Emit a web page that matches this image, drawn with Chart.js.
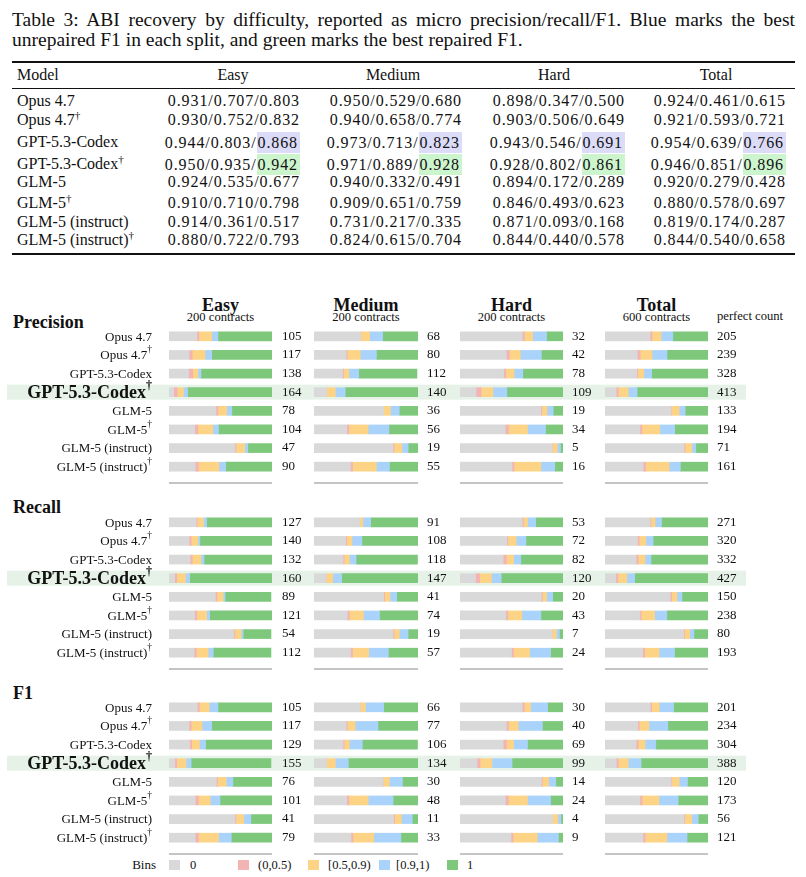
<!DOCTYPE html>
<html>
<head>
<meta charset="utf-8">
<script src="https://cdn.jsdelivr.net/npm/chart.js@4.4.1/dist/chart.umd.min.js"></script>
<style>
  body { margin: 0; background: #fff; }
  #page { position: relative; width: 806px; height: 877px; overflow: hidden;
          font-family: 'Liberation Serif', 'Times New Roman', serif; color: #111; }
  .abs { position: absolute; white-space: nowrap; }
  .cap { left: 12px; width: 783px; font-size: 19.5px; line-height: 20px; text-align: justify; text-align-last: justify; white-space: normal; }
  .cap.last { text-align-last: left; }
  .rule { position: absolute; left: 12px; width: 783px; background: #111; }
  .cell { position: absolute; font-size: 16px; line-height: 20px; height: 20px; white-space: nowrap; }
  .val { letter-spacing: 0.9px; text-align: right; }
  .hb { display: inline-block; background: #dcdcf8; padding: 0 2px 0 1px; height: 21px; line-height: 21px; }
  .hg { display: inline-block; background: #cdf5cd; padding: 0 2px 0 1px; height: 21px; line-height: 21px; }
  .colhead { font-weight: bold; font-size: 18px; line-height: 18px; text-align: center; width: 120px; }
  .colsub { font-size: 12.6px; line-height: 13px; text-align: center; width: 120px; }
  .blockhead { font-weight: bold; font-size: 18px; line-height: 20px; left: 13px; }
  .sw { position: absolute; width: 11px; height: 10px; }
  .lg { font-size: 12.5px; line-height: 14px; }
  canvas { position: absolute; }
</style>
</head>
<body>
<div id="page"></div>
<script>
// ---- data ----
const MODELS = ['Opus 4.7', 'Opus 4.7†', 'GPT-5.3-Codex', 'GPT-5.3-Codex†', 'GLM-5', 'GLM-5†', 'GLM-5 (instruct)', 'GLM-5 (instruct)†'];
const SPLITS = ['Easy', 'Medium', 'Hard', 'Total'];
const SPLIT_SIZES = [200, 200, 200, 600];
const METRICS = ['Precision', 'Recall', 'F1'];
const BINS = ['0', '(0,0.5)', '[0.5,0.9)', '[0.9,1)', '1'];
const BIN_COLORS = ['#d9d9d9', '#f4b4b4', '#fdd486', '#a9d3fa', '#7dc87b'];

// table values, precision/recall/F1 per split
const tableEasy   = ['0.931/0.707/0.803', '0.930/0.752/0.832', '0.944/0.803/0.868', '0.950/0.935/0.942', '0.924/0.535/0.677', '0.910/0.710/0.798', '0.914/0.361/0.517', '0.880/0.722/0.793'];
const tableMedium = ['0.950/0.529/0.680', '0.940/0.658/0.774', '0.973/0.713/0.823', '0.971/0.889/0.928', '0.940/0.332/0.491', '0.909/0.651/0.759', '0.731/0.217/0.335', '0.824/0.615/0.704'];
const tableHard   = ['0.898/0.347/0.500', '0.903/0.506/0.649', '0.943/0.546/0.691', '0.928/0.802/0.861', '0.894/0.172/0.289', '0.846/0.493/0.623', '0.871/0.093/0.168', '0.844/0.440/0.578'];
const tableTotal  = ['0.924/0.461/0.615', '0.921/0.593/0.721', '0.954/0.639/0.766', '0.946/0.851/0.896', '0.920/0.279/0.428', '0.880/0.578/0.697', '0.819/0.174/0.287', '0.844/0.540/0.658'];

// contracts per bin, one row per model: [0, (0,0.5), [0.5,0.9), [0.9,1), 1]
const precisionEasy = [[54,4,25,12,105],[39,6,25,13,117],[38,8,10,6,138],[9,7,12,8,164],[91,4,17,10,78],[50,6,29,11,104],[128,2,17,6,47],[51,6,40,13,90]];
const precisionMedium = [[90,0,17,25,68],[62,2,25,31,80],[55,2,10,19,112],[24,0,17,19,140],[134,0,13,17,36],[63,4,37,40,56],[152,2,15,12,19],[70,4,46,25,55]];
const precisionHard = [[121,4,16,27,32],[90,6,21,41,42],[85,4,16,17,78],[31,10,23,27,109],[157,2,10,12,19],[88,6,37,35,34],[179,0,10,6,5],[101,4,52,27,16]];
const precisionTotal = [[262,12,52,69,205],[188,17,69,87,239],[185,6,35,46,328],[65,12,58,52,413],[384,2,46,35,133],[203,12,104,87,194],[460,6,40,23,71],[222,14,138,65,161]];

const recallEasy = [[53,2,12,6,127],[39,4,13,4,140],[41,4,17,6,132],[11,4,17,8,160],[90,3,12,4,89],[50,4,19,6,121],[126,2,12,4,54],[49,4,23,10,112]];
const recallMedium = [[88,0,6,15,91],[61,2,10,19,108],[56,2,10,13,118],[23,0,13,17,147],[134,2,10,13,41],[64,4,27,31,74],[152,2,10,17,19],[70,4,31,38,57]];
const recallHard = [[121,2,8,16,53],[91,2,16,19,72],[84,6,14,14,82],[30,8,23,19,120],[158,2,8,12,20],[89,4,27,37,43],[179,0,8,6,7],[100,4,31,41,24]];
const recallTotal = [[263,5,24,37,271],[189,10,39,42,320],[181,12,40,35,332],[63,12,52,46,427],[380,9,30,29,150],[203,8,78,71,238],[458,5,30,25,80],[219,12,84,90,193]];

const f1Easy = [[55,4,19,17,105],[39,4,21,19,117],[40,4,15,12,129],[11,4,18,10,155],[92,2,17,13,76],[51,6,23,19,101],[128,2,15,14,41],[51,6,39,25,79]];
const f1Medium = [[89,0,10,35,66],[62,2,15,44,77],[56,2,10,25,106],[24,0,17,25,134],[133,0,12,25,30],[63,4,37,48,48],[153,2,13,21,11],[71,4,40,52,33]];
const f1Hard = [[121,4,12,33,30],[90,4,19,47,40],[84,6,14,27,69],[33,6,23,39,99],[158,2,12,14,14],[88,6,37,45,24],[180,0,10,6,4],[99,4,47,41,9]];
const f1Total = [[264,8,44,83,201],[191,8,57,110,234],[181,12,40,63,304],[66,11,58,75,388],[385,4,43,48,120],[203,13,98,112,173],[460,5,40,38,56],[221,13,127,117,121]];

const BLOCKS = [
  [precisionEasy, precisionMedium, precisionHard, precisionTotal],
  [recallEasy, recallMedium, recallHard, recallTotal],
  [f1Easy, f1Medium, f1Hard, f1Total]
];

// ---- layout ----
const SERIF = "'Liberation Serif', 'Times New Roman', serif";
const page = document.getElementById('page');
const BLOCK_TOP = [327, 513, 698];
const COLS = [
  { left: 0,   width: 314, pad: 169, rightW: 42, tickPad: 10 },
  { left: 314, width: 146, pad: 0,   rightW: 42, tickPad: 9 },
  { left: 460, width: 145, pad: 0,   rightW: 42, tickPad: 9 },
  { left: 605, width: 141, pad: 0,   rightW: 38, tickPad: 9 }
];
const BEST_ROW = 3;

function add(cls, left, top, html, extra) {
  const d = document.createElement('div');
  d.className = 'abs ' + cls;
  d.style.left = left + 'px'; d.style.top = top + 'px';
  d.innerHTML = html;
  if (extra) Object.assign(d.style, extra);
  page.appendChild(d);
  return d;
}
const sup = s => s.replace('†', '<sup style="font-size:0.7em;line-height:0">†</sup>');

// caption
add('cap', 12, 10, 'Table 3: ABI recovery by difficulty, reported as micro precision/recall/F1. Blue marks the best');
add('cap last', 12, 30, 'unrepaired F1 in each split, and green marks the best repaired F1.');

// table
[[61, 2], [88, 1], [253, 2]].forEach(([y, h]) => {
  const r = document.createElement('div'); r.className = 'rule';
  r.style.top = y + 'px'; r.style.height = h + 'px'; page.appendChild(r);
});
const colCenters = [233, 393, 554, 716];
const colRight = [300, 462, 625, 786];
add('cell', 17, 65, 'Model');
SPLITS.forEach((s, j) => add('cell', colCenters[j] - 60, 65, s, { width: '120px', textAlign: 'center' }));
const ROW_Y = [101, 120, 142, 164, 182, 203, 222, 240];
const tableCols = [tableEasy, tableMedium, tableHard, tableTotal];
MODELS.forEach((m, i) => {
  const top = ROW_Y[i] - 10;
  add('cell', 17, top, sup(m));
  tableCols.forEach((col, j) => {
    let txt = col[i];
    if (i === 2 || i === 3) {
      const k = txt.lastIndexOf('/') + 1;
      txt = txt.slice(0, k) + '<span class="' + (i === 2 ? 'hb' : 'hg') + '"> ' + txt.slice(k) + '</span>';
    }
    add('cell val', 0, top, txt, { left: 'auto', right: (806 - colRight[j]) + 'px' });
  });
});

// chart headings
const barCenters = [220.5, 366, 511.5, 656.5];
SPLITS.forEach((s, j) => {
  add('colhead', barCenters[j] - 60, 296, s);
  add('colsub', barCenters[j] - 60, 311, SPLIT_SIZES[j] + ' contracts');
});
add('lg', 717, 309, 'perfect count', { fontSize: '12.6px' });
const headY = [312, 497, 683];
METRICS.forEach((m, b) => add('blockhead', 13, headY[b], m));

// legend
add('lg', 0, 858, 'Bins', { width: '156px', textAlign: 'right', fontSize: '13px' });
const swX = [169, 238, 308, 379, 447];
const lgX = [190, 258, 328, 396, 467];
BINS.forEach((b, k) => {
  const s = document.createElement('div'); s.className = 'sw';
  s.style.left = swX[k] + 'px'; s.style.top = '860px'; s.style.background = BIN_COLORS[k];
  page.appendChild(s);
  add('lg', lgX[k], 858, b);
});

// ---- plugins ----
const bandPlugin = {
  id: 'band',
  beforeDraw(chart, args, opts) {
    const y = chart.scales.y.getPixelForValue(BEST_ROW);
    const c = chart.ctx;
    c.save(); c.fillStyle = '#e6f2e8';
    c.fillRect(opts.x0, y - 7.5, chart.width - opts.x0, 15);
    c.restore();
  }
};
const sepPlugin = {
  id: 'sep',
  afterDraw(chart) {
    const a = chart.chartArea, c = chart.ctx;
    c.save(); c.strokeStyle = '#c4c4c4'; c.lineWidth = 2;
    c.beginPath(); c.moveTo(a.left, a.bottom + 7); c.lineTo(a.right, a.bottom + 7); c.stroke();
    c.restore();
  }
};
const namePlugin = {
  id: 'names',
  afterDraw(chart, args, opts) {
    if (!opts.show) return;
    const c = chart.ctx;
    c.save(); c.fillStyle = '#111'; c.textBaseline = 'middle'; c.textAlign = 'left';
    MODELS.forEach((name, i) => {
      const y = chart.scales.y.getPixelForValue(i);
      const big = i === BEST_ROW;
      const dag = name.endsWith('†');
      const base = name.replace('†', '');
      const f = big ? 'bold 18px ' + SERIF : '13px ' + SERIF;
      const fd = (big ? 'bold 12px ' : '9.5px ') + SERIF;
      c.font = f; const w1 = c.measureText(base).width;
      c.font = fd; const w2 = dag ? c.measureText('†').width : 0;
      const x = 152 - w1 - w2;
      c.font = f; c.fillText(base, x, y + 1);
      if (dag) { c.font = fd; c.fillText('†', x + w1, y - (big ? 6 : 5)); }
    });
    c.restore();
  }
};

// ---- charts ----
BLOCKS.forEach((cols, b) => {
  cols.forEach((rows, j) => {
    const g = COLS[j];
    const cv = document.createElement('canvas');
    cv.width = g.width; cv.height = 159;
    cv.style.left = g.left + 'px'; cv.style.top = BLOCK_TOP[b] + 'px';
    page.appendChild(cv);
    new Chart(cv, {
      type: 'bar',
      data: {
        labels: MODELS,
        datasets: BINS.map((bin, k) => ({
          label: bin,
          data: rows.map(r => r[k]),
          backgroundColor: BIN_COLORS[k],
          borderWidth: 0,
          barThickness: 9
        }))
      },
      options: {
        indexAxis: 'y',
        responsive: false,
        animation: false,
        layout: { padding: { left: g.pad, right: 0, top: 0, bottom: 10 } },
        plugins: {
          legend: { display: false },
          tooltip: { enabled: false },
          band: { x0: j === 0 ? 7 : 0 },
          names: { show: j === 0 }
        },
        scales: {
          x: { stacked: true, display: false, min: 0, max: SPLIT_SIZES[j] },
          y: { stacked: true, display: false },
          y2: {
            type: 'category',
            position: 'right',
            offset: true,
            labels: rows.map(r => String(r[4])),
            grid: { display: false, drawTicks: false },
            border: { display: false },
            ticks: { padding: g.tickPad, color: '#111', font: { family: SERIF, size: 13 } },
            afterFit(s) { s.width = g.rightW; s.paddingTop = 0; s.paddingBottom = 0; }
          }
        }
      },
      plugins: [bandPlugin, sepPlugin, namePlugin]
    });
  });
});
</script>
</body>
</html>
